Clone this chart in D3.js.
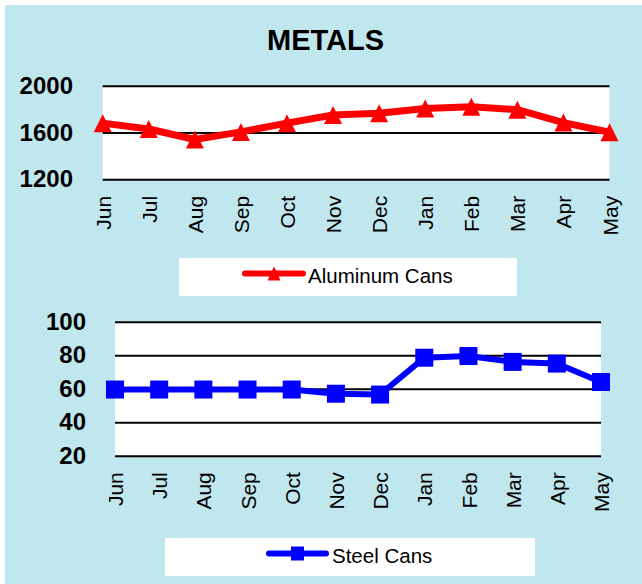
<!DOCTYPE html>
<html>
<head>
<meta charset="utf-8">
<script src="https://cdn.jsdelivr.net/npm/d3@7/dist/d3.min.js"></script>
<style>
  html, body { margin: 0; padding: 0; background: #ffffff; }
  svg { display: block; }
  text { font-family: "Liberation Sans", Arial, Helvetica, sans-serif; }
</style>
</head>
<body>
<svg id="chart" width="642" height="584"></svg>
<script>
// ---- data ----
const months = ["Jun", "Jul", "Aug", "Sep", "Oct", "Nov", "Dec", "Jan", "Feb", "Mar", "Apr", "May"];
const aluminumCans = [1680, 1630, 1540, 1605, 1680, 1750, 1765, 1805, 1820, 1795, 1685, 1602];
const steelCans = [59.5, 59.5, 59.5, 59.5, 59.5, 57, 56.5, 78.5, 79.5, 76, 75, 64];
const aluminumTicks = [1200, 1600, 2000];
const steelTicks = [20, 40, 60, 80, 100];
const titleText = "METALS";
const aluminumLabel = "Aluminum Cans";
const steelLabel = "Steel Cans";

const svg = d3.select("#chart");
const BG = "#C0E6EE";

svg.append("rect").attr("x", 5).attr("y", 5).attr("width", 637).attr("height", 579).attr("fill", BG);

svg.append("text")
  .attr("x", 325.5).attr("y", 49.5)
  .attr("text-anchor", "middle")
  .attr("font-size", "29px").attr("font-weight", "bold").attr("fill", "#000")
  .text(titleText);

function drawPanel(cfg) {
  const x = d3.scalePoint().domain(months).range([cfg.left, cfg.right]).padding(0);
  const y = d3.scaleLinear().domain(cfg.domain).range([cfg.bottom, cfg.top]);

  // plot area
  svg.append("rect")
    .attr("x", cfg.left).attr("y", cfg.top)
    .attr("width", cfg.right - cfg.left).attr("height", cfg.bottom - cfg.top)
    .attr("fill", "#ffffff");

  // y axis with gridlines
  const yAxis = d3.axisLeft(y).tickValues(cfg.ticks)
    .tickSize(-(cfg.right - cfg.left)).tickPadding(cfg.labelGap)
    .tickFormat(d3.format("d"));
  const yg = svg.append("g").attr("transform", `translate(${cfg.left},0)`).call(yAxis);
  yg.select(".domain").remove();
  yg.selectAll(".tick line").attr("stroke", "#000").attr("stroke-width", 2);
  yg.selectAll(".tick text")
    .attr("font-size", "24px").attr("font-weight", "bold").attr("fill", "#000")
    .attr("font-family", "'Liberation Sans', Arial, sans-serif");

  // x axis labels
  const xAxis = d3.axisBottom(x).tickSize(0);
  const xg = svg.append("g").attr("transform", `translate(0,${cfg.bottom})`).call(xAxis);
  xg.select(".domain").remove();
  xg.selectAll(".tick text")
    .attr("transform", "rotate(-90)")
    .attr("x", -16.5).attr("y", 0).attr("dy", "0.36em")
    .attr("text-anchor", "end")
    .attr("font-size", "21px").attr("fill", "#000")
    .attr("font-family", "'Liberation Sans', Arial, sans-serif");

  // series line
  const line = d3.line().x((d, i) => x(months[i])).y(d => y(d));
  svg.append("path").datum(cfg.values)
    .attr("d", line).attr("fill", "none")
    .attr("stroke", cfg.color).attr("stroke-width", cfg.lineWidth)
    .attr("stroke-linejoin", "round");

  // markers
  const mg = svg.append("g");
  cfg.values.forEach((v, i) => {
    const cx = x(months[i]), cy = y(v);
    if (cfg.marker === "triangle") {
      mg.append("path")
        .attr("transform", `translate(${cx},${cy})`)
        .attr("d", "M0,-9L9,9L-9,9Z").attr("fill", cfg.color);
    } else {
      mg.append("rect")
        .attr("x", cx - 9).attr("y", cy - 9).attr("width", 18).attr("height", 18)
        .attr("fill", cfg.color);
    }
  });

  // legend
  const L = cfg.legend;
  svg.append("rect").attr("x", L.x0).attr("y", L.y0)
    .attr("width", L.x1 - L.x0).attr("height", L.y1 - L.y0).attr("fill", "#ffffff");
  svg.append("line").attr("x1", L.lx0).attr("x2", L.lx1).attr("y1", L.ly).attr("y2", L.ly)
    .attr("stroke", cfg.color).attr("stroke-width", 6).attr("stroke-linecap", "round");
  const mx = (L.lx0 + L.lx1) / 2;
  if (cfg.marker === "triangle") {
    svg.append("path").attr("transform", `translate(${mx},${L.ly})`)
      .attr("d", "M0,-7L6.5,7L-6.5,7Z").attr("fill", cfg.color);
  } else {
    svg.append("rect").attr("x", mx - 6.5).attr("y", L.ly - 7)
      .attr("width", 13).attr("height", 14).attr("fill", cfg.color);
  }
  svg.append("text").attr("x", L.tx).attr("y", L.ty)
    .attr("font-size", "20.5px").attr("fill", "#000")
    .text(cfg.label);
}

drawPanel({
  values: aluminumCans, domain: [1200, 2000], ticks: aluminumTicks,
  left: 102.7, right: 609.5, top: 85.7, bottom: 179.3, labelGap: 29.7,
  color: "#FF0000", lineWidth: 7, marker: "triangle", label: aluminumLabel,
  legend: { x0: 179, x1: 517, y0: 258, y1: 296, lx0: 245, lx1: 303, ly: 273.5, tx: 308, ty: 283.3 }
});

drawPanel({
  values: steelCans, domain: [20, 100], ticks: steelTicks,
  left: 115, right: 601, top: 321.7, bottom: 455.7, labelGap: 29,
  color: "#0000FF", lineWidth: 6, marker: "square", label: steelLabel,
  legend: { x0: 165, x1: 535, y0: 538, y1: 576, lx0: 269, lx1: 326, ly: 553.5, tx: 332, ty: 563.3 }
});
</script>
</body>
</html>
